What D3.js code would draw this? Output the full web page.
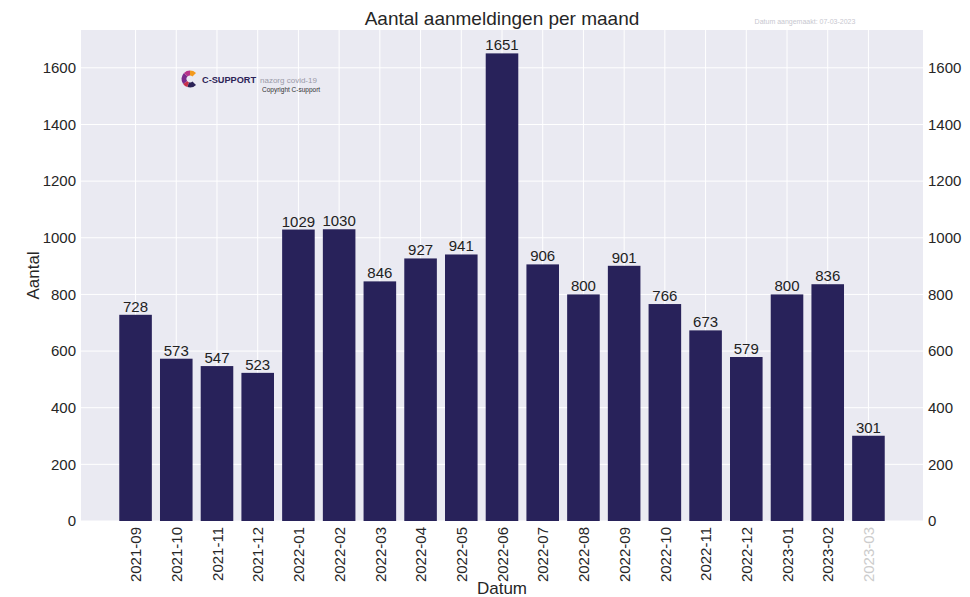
<!DOCTYPE html>
<html>
<head>
<meta charset="utf-8">
<script src="https://cdn.jsdelivr.net/npm/d3@7"></script>
<style>
  body { margin: 0; background: #fff; }
  text { font-family: "Liberation Sans", Arial, sans-serif; }
</style>
</head>
<body>
<svg id="graph" width="970" height="597"></svg>
<script>
const months = ["2021-09", "2021-10", "2021-11", "2021-12", "2022-01", "2022-02", "2022-03",
    "2022-04", "2022-05", "2022-06", "2022-07", "2022-08", "2022-09", "2022-10", "2022-11",
    "2022-12", "2023-01", "2023-02", "2023-03"];
const counts = [728, 573, 547, 523, 1029, 1030, 846, 927, 941, 1651, 906, 800, 901, 766, 673,
    579, 800, 836, 301];
const yTicks = [0, 200, 400, 600, 800, 1000, 1200, 1400, 1600];
const partialMonth = "2023-03";

let svg = d3.select("#graph");

let pLeft = 81, pRight = 923, pTop = 30, pBottom = 521;

// matplotlib-ish margins: bars span -0.4..n-0.6, plus 5%
let n = months.length;
let lo = -0.4, hi = n - 0.6, pad = (hi - lo) * 0.05;
let scX = d3.scaleLinear().domain([lo - pad, hi + pad]).range([pLeft, pRight]);
let scY = d3.scaleLinear().domain([0, d3.max(counts) * 1.05]).range([pBottom, pTop]);
let barW = scX(0.8) - scX(0);

svg.append("rect")
    .attr("x", pLeft).attr("y", pTop)
    .attr("width", pRight - pLeft).attr("height", pBottom - pTop)
    .attr("fill", "#eaeaf2");

// grid
let grid = svg.append("g").attr("stroke", "#fff").attr("stroke-width", 1);
grid.selectAll("line.h")
    .data(yTicks)
    .enter()
    .append("line")
    .attr("x1", pLeft).attr("x2", pRight)
    .attr("y1", (d) => scY(d)).attr("y2", (d) => scY(d));
grid.selectAll("line.v")
    .data(months)
    .enter()
    .append("line")
    .attr("y1", pTop).attr("y2", pBottom)
    .attr("x1", (d, i) => scX(i)).attr("x2", (d, i) => scX(i));

// bars
let g = svg.append("g");
g.selectAll("rect")
    .data(counts)
    .enter()
    .append("rect")
    .attr("x", (d, i) => scX(i) - barW / 2)
    .attr("width", barW)
    .attr("y", (d) => scY(d))
    .attr("height", (d) => scY(0) - scY(d))
    .attr("fill", "#28225a");

g.selectAll("text")
    .data(counts)
    .enter()
    .append("text")
    .attr("x", (d, i) => scX(i))
    .attr("y", (d) => scY(d) - 3)
    .attr("text-anchor", "middle")
    .attr("font-size", 15)
    .attr("fill", "#222")
    .text((d) => d);

// axes
let fmt = d3.format("d");
let axL = svg.append("g")
    .attr("transform", "translate(" + pLeft + ",0)")
    .call(d3.axisLeft(scY).tickValues(yTicks).tickFormat(fmt).tickSize(0).tickPadding(5));
let axR = svg.append("g")
    .attr("transform", "translate(" + pRight + ",0)")
    .call(d3.axisRight(scY).tickValues(yTicks).tickFormat(fmt).tickSize(0).tickPadding(5));
[axL, axR].forEach((a) => {
    a.select(".domain").remove();
    a.selectAll("text").attr("font-size", 15).attr("fill", "#262626")
        .attr("font-family", "Liberation Sans, Arial, sans-serif");
});

let axB = svg.append("g")
    .attr("transform", "translate(0," + pBottom + ")")
    .call(d3.axisBottom(scX).tickValues(d3.range(n)).tickFormat((i) => months[i]).tickSize(0));
axB.select(".domain").remove();
axB.selectAll("text")
    .attr("font-size", 15)
    .attr("font-family", "Liberation Sans, Arial, sans-serif")
    .attr("fill", (i) => months[i] === partialMonth ? "#cccccc" : "#262626")
    .attr("transform", "rotate(-90)")
    .attr("text-anchor", "end")
    .attr("x", -6)
    .attr("y", 0)
    .attr("dy", "0.35em");

// labels
svg.append("text")
    .attr("x", (pLeft + pRight) / 2).attr("y", 25)
    .attr("text-anchor", "middle").attr("font-size", 19).attr("fill", "#262626")
    .text("Aantal aanmeldingen per maand");
svg.append("text")
    .attr("x", (pLeft + pRight) / 2).attr("y", 594)
    .attr("text-anchor", "middle").attr("font-size", 17).attr("fill", "#262626")
    .text("Datum");
svg.append("text")
    .attr("transform", "translate(39," + (pTop + pBottom) / 2 + ") rotate(-90)")
    .attr("text-anchor", "middle").attr("font-size", 17).attr("fill", "#262626")
    .text("Aantal");
svg.append("text")
    .attr("x", 805).attr("y", 24)
    .attr("text-anchor", "middle").attr("font-size", 7).attr("fill", "#c8c8d0")
    .text("Datum aangemaakt: 07-03-2023");

// logo
let logo = svg.append("g").attr("transform", "translate(190,79)");
let arc = d3.arc().innerRadius(3.5).outerRadius(8.5);
[["#2c2357", 0.75, 1.1],
 ["#c8304a", 1.1, 1.3],
 ["#7a2b8c", 1.3, 1.75],
 ["#b8338a", 1.75, 2.0],
 ["#f39a1e", 2.0, 2.25]].forEach((s) => {
    logo.append("path")
        .attr("d", arc({ startAngle: s[1] * Math.PI, endAngle: s[2] * Math.PI }))
        .attr("fill", s[0]);
});
svg.append("text")
    .attr("x", 202).attr("y", 83)
    .attr("font-size", 9.2).attr("font-weight", "bold").attr("fill", "#2c2357")
    .text("C-SUPPORT");
svg.append("text")
    .attr("x", 260).attr("y", 83)
    .attr("font-size", 8).attr("fill", "#9a9aa8")
    .text("nazorg covid-19");
svg.append("text")
    .attr("x", 262).attr("y", 92)
    .attr("font-size", 6.5).attr("fill", "#333")
    .text("Copyright C-support");
</script>
</body>
</html>
